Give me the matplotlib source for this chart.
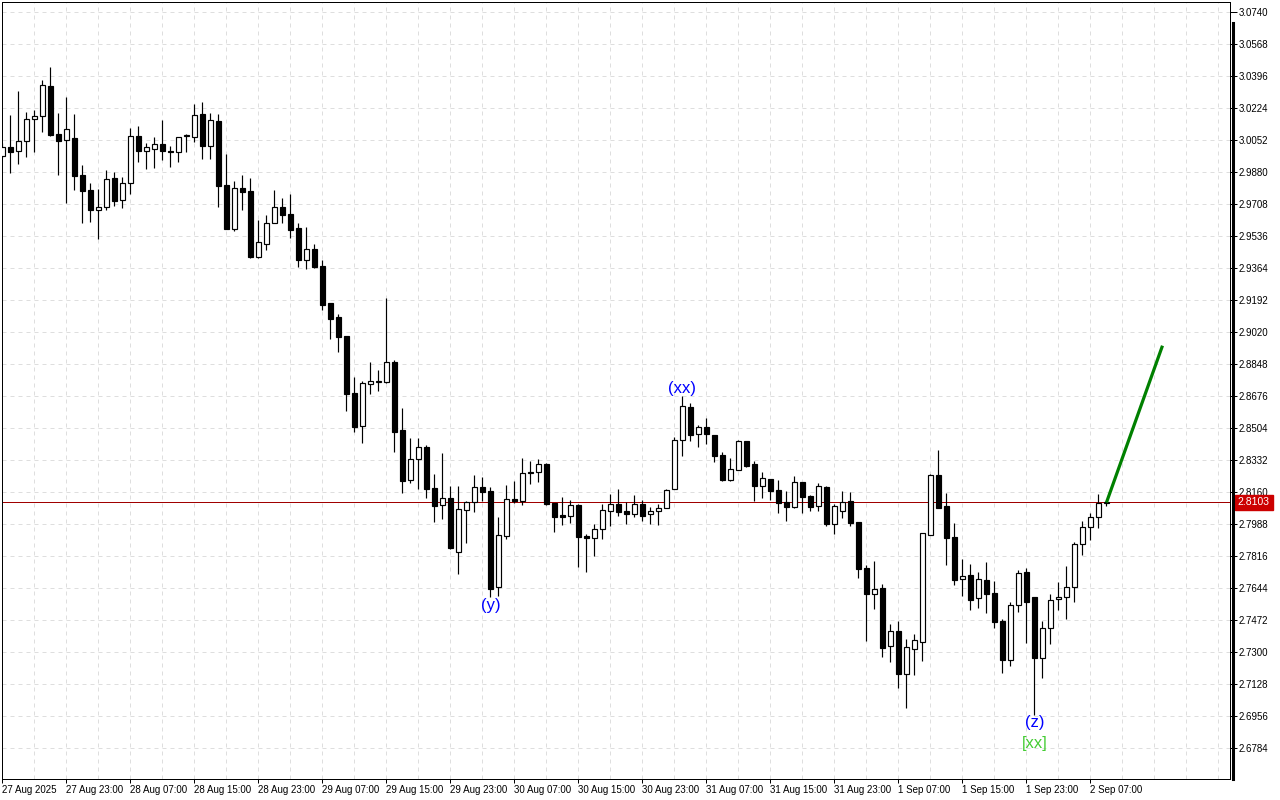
import numpy as np
import matplotlib
matplotlib.use('Agg')
import matplotlib.pyplot as plt
from matplotlib.lines import Line2D

plt.rcParams['font.family'] = ['Liberation Sans', 'DejaVu Sans']

# hourly candles, 27 Aug 15:00 -> 2 Sep 09:00
opens = [
    2.9967, 3.0013, 2.9991, 3.0045, 3.0163, 3.0179, 3.0341, 3.0082, 3.0050, 3.0061,
    2.9862, 2.9781, 2.9677, 2.9690, 2.9846, 2.9728, 2.9819, 3.0073, 2.9991, 3.0005,
    3.0032, 2.9993, 2.9989, 3.0073, 3.0070, 3.0190, 3.0021, 3.0154, 2.9810, 2.9575,
    2.9794, 2.9778, 2.9424, 2.9491, 2.9604, 2.9692, 2.9654, 2.9577, 2.9405, 2.9464,
    2.9373, 2.9175, 2.9100, 2.8998, 2.8692, 2.8516, 2.8738, 2.8753, 2.8752, 2.8857,
    2.8493, 2.8222, 2.8335, 2.8400, 2.8179, 2.8088, 2.8125, 2.7838, 2.8064, 2.8104,
    2.8185, 2.8163, 2.7650, 2.7921, 2.8120, 2.8113, 2.8267, 2.8265, 2.8310, 2.8100,
    2.8034, 2.8029, 2.8089, 2.7923, 2.7911, 2.7959, 2.8057, 2.8093, 2.8056, 2.8040,
    2.8093, 2.8043, 2.8056, 2.8072, 2.8174, 2.8437, 2.8615, 2.8470, 2.8508, 2.8466,
    2.8357, 2.8226, 2.8279, 2.8432, 2.8308, 2.8193, 2.8228, 2.8170, 2.8105, 2.8080,
    2.8212, 2.8136, 2.8082, 2.8185, 2.7987, 2.8056, 2.8109, 2.7996, 2.7751, 2.7613,
    2.7643, 2.7330, 2.7410, 2.7183, 2.7317, 2.7355, 2.7930, 2.8251, 2.8084, 2.7918,
    2.7690, 2.7711, 2.7588, 2.7686, 2.7615, 2.7466, 2.7258, 2.7550, 2.7727, 2.7595,
    2.7265, 2.7427, 2.7583, 2.7593, 2.7650, 2.7878, 2.7970, 2.8023, 2.8099,
]
highs = [
    3.0036, 3.0186, 3.0315, 3.0202, 3.0213, 3.0374, 3.0444, 3.0197, 3.0283, 3.0192,
    2.9917, 2.9821, 2.9788, 2.9891, 2.9880, 2.9853, 3.0116, 3.0127, 3.0036, 3.0068,
    3.0159, 3.0020, 3.0068, 3.0086, 3.0245, 3.0256, 3.0197, 3.0192, 2.9977, 2.9831,
    2.9864, 2.9848, 2.9622, 2.9649, 2.9783, 2.9740, 2.9762, 2.9606, 2.9584, 2.9493,
    2.9407, 2.9175, 2.9116, 2.8998, 2.8778, 2.8756, 2.8858, 2.8815, 2.9202, 2.8869,
    2.8611, 2.8450, 2.8450, 2.8412, 2.8256, 2.8369, 2.8192, 2.8192, 2.8111, 2.8251,
    2.8240, 2.8186, 2.8025, 2.8197, 2.8219, 2.8342, 2.8326, 2.8337, 2.8315, 2.8100,
    2.8133, 2.8116, 2.8095, 2.7934, 2.7987, 2.8095, 2.8149, 2.8176, 2.8105, 2.8143,
    2.8116, 2.8079, 2.8095, 2.8176, 2.8455, 2.8676, 2.8638, 2.8520, 2.8557, 2.8466,
    2.8374, 2.8342, 2.8439, 2.8434, 2.8326, 2.8267, 2.8231, 2.8224, 2.8165, 2.8245,
    2.8213, 2.8143, 2.8208, 2.8192, 2.8095, 2.8165, 2.8159, 2.7998, 2.7767, 2.7788,
    2.7665, 2.7450, 2.7466, 2.7369, 2.7396, 2.7939, 2.8256, 2.8385, 2.8154, 2.7993,
    2.7799, 2.7772, 2.7729, 2.7783, 2.7681, 2.7477, 2.7568, 2.7740, 2.7751, 2.7595,
    2.7466, 2.7611, 2.7676, 2.7761, 2.7891, 2.8003, 2.8047, 2.8149, 2.8111,
]
lows = [
    2.9955, 2.9874, 2.9923, 2.9960, 2.9987, 3.0095, 3.0073, 2.9864, 2.9713, 2.9783,
    2.9606, 2.9611, 2.9520, 2.9676, 2.9697, 2.9686, 2.9762, 2.9934, 2.9896, 2.9901,
    2.9944, 2.9907, 2.9934, 2.9986, 3.0041, 2.9950, 2.9950, 2.9692, 2.9573, 2.9563,
    2.9676, 2.9417, 2.9417, 2.9460, 2.9603, 2.9606, 2.9525, 2.9369, 2.9358, 2.9364,
    2.9138, 2.8982, 2.8912, 2.8595, 2.8482, 2.8423, 2.8686, 2.8702, 2.8748, 2.8374,
    2.8154, 2.8208, 2.8176, 2.8127, 2.7998, 2.8014, 2.7853, 2.7719, 2.7885, 2.8052,
    2.8111, 2.7595, 2.7600, 2.7907, 2.8100, 2.8089, 2.8202, 2.8213, 2.8089, 2.7944,
    2.7982, 2.7993, 2.7756, 2.7729, 2.7815, 2.7907, 2.7977, 2.8030, 2.7987, 2.8025,
    2.8003, 2.7987, 2.7982, 2.8071, 2.8173, 2.8353, 2.8434, 2.8401, 2.8417, 2.8321,
    2.8221, 2.8219, 2.8278, 2.8294, 2.8111, 2.8127, 2.8116, 2.8047, 2.8003, 2.8073,
    2.8047, 2.8057, 2.8057, 2.7977, 2.7934, 2.8020, 2.7977, 2.7697, 2.7358, 2.7530,
    2.7272, 2.7245, 2.7106, 2.6998, 2.7176, 2.7251, 2.7928, 2.8073, 2.7767, 2.7659,
    2.7600, 2.7525, 2.7536, 2.7509, 2.7428, 2.7186, 2.7224, 2.7514, 2.7348, 2.6960,
    2.7159, 2.7342, 2.7525, 2.7477, 2.7568, 2.7821, 2.7901, 2.7966, 2.8084,
]
closes = [
    3.0013, 2.9989, 3.0045, 3.0163, 3.0179, 3.0346, 3.0079, 3.0045, 3.0109, 2.9860,
    2.9779, 2.9677, 2.9692, 2.9841, 2.9725, 2.9819, 3.0072, 2.9993, 3.0013, 3.0029,
    2.9994, 2.9990, 3.0066, 3.0077, 3.0185, 3.0021, 3.0158, 2.9806, 2.9575, 2.9792,
    2.9774, 2.9424, 2.9502, 2.9604, 2.9690, 2.9650, 2.9570, 2.9408, 2.9464, 2.9369,
    2.9166, 2.9091, 2.8994, 2.8688, 2.8509, 2.8745, 2.8754, 2.8754, 2.8857, 2.8484,
    2.8220, 2.8335, 2.8400, 2.8174, 2.8086, 2.8127, 2.7860, 2.8066, 2.8104, 2.8185,
    2.8161, 2.7640, 2.7927, 2.8120, 2.8113, 2.8260, 2.8260, 2.8308, 2.8097, 2.8027,
    2.8027, 2.8088, 2.7919, 2.7911, 2.7959, 2.8061, 2.8093, 2.8053, 2.8040, 2.8093,
    2.8032, 2.8056, 2.8072, 2.8169, 2.8437, 2.8620, 2.8464, 2.8508, 2.8470, 2.8355,
    2.8226, 2.8281, 2.8432, 2.8300, 2.8193, 2.8233, 2.8166, 2.8102, 2.8080, 2.8212,
    2.8134, 2.8080, 2.8190, 2.7985, 2.8084, 2.8105, 2.7994, 2.7747, 2.7613, 2.7640,
    2.7322, 2.7410, 2.7183, 2.7324, 2.7362, 2.7937, 2.8251, 2.8075, 2.7914, 2.7688,
    2.7706, 2.7580, 2.7690, 2.7613, 2.7462, 2.7258, 2.7550, 2.7722, 2.7570, 2.7269,
    2.7427, 2.7577, 2.7593, 2.7647, 2.7878, 2.7970, 2.8023, 2.8099, 2.8103,
]

# time axis labels (every 8 bars)
x_labels = ['27 Aug 2025', '27 Aug 23:00', '28 Aug 07:00', '28 Aug 15:00', '28 Aug 23:00',
            '29 Aug 07:00', '29 Aug 15:00', '29 Aug 23:00', '30 Aug 07:00', '30 Aug 15:00',
            '30 Aug 23:00', '31 Aug 07:00', '31 Aug 15:00', '31 Aug 23:00', '1 Sep 07:00',
            '1 Sep 15:00', '1 Sep 23:00', '2 Sep 07:00']
y_ticks = [3.0740, 3.0568, 3.0396, 3.0224, 3.0052, 2.9880, 2.9708, 2.9536, 2.9364, 2.9192,
           2.9020, 2.8848, 2.8676, 2.8504, 2.8332, 2.8160, 2.7988, 2.7816, 2.7644, 2.7472,
           2.7300, 2.7128, 2.6956, 2.6784]

last_price = 2.8103
# forecast segment (bar index, price)
proj_x = [138, 145]
proj_y = [2.8103, 2.8946]

# wave labels: bar, text, colour, 'high'/'low', extra offset (pt)
wave_labels = [
    (61, '(y)', 'blue', 'low', -1),
    (85, '(xx)', 'blue', 'high', 0),
    (129, '(z)', 'blue', 'low', 0),
    (129, '[xx]', '#44cc33', 'low', -15),
]

o = np.array(opens)
h = np.array(highs)
l = np.array(lows)
c = np.array(closes)
x = np.arange(len(o))
up = c >= o

fig = plt.figure(figsize=(12.8, 8), dpi=100)
ax = fig.add_axes([2 / 1280, 21 / 800, 1228 / 1280, 777 / 800])
ax.set_xlim(-0.06, 153.44)
ax.set_ylim(2.6616, 3.0794)

# grid
for k in range(0, 154, 4):
    ax.axvline(k, color='#dedede', lw=0.72, ls=(0, (4, 4)), zorder=0)
for v in y_ticks:
    ax.axhline(v, color='#dedede', lw=0.72, ls=(0, (4, 4)), zorder=0)

# candles
ax.vlines(x, l, h, color='black', lw=0.85, zorder=3)
body_lo = np.minimum(o, c)
body_h = np.maximum(np.abs(c - o), 0.0001)
ax.bar(x[up], body_h[up], bottom=body_lo[up], width=0.55, facecolor='white',
       edgecolor='black', lw=0.85, zorder=4)
ax.bar(x[~up], body_h[~up], bottom=body_lo[~up], width=0.55, facecolor='black',
       edgecolor='black', lw=0.85, zorder=4)

# current price line
ax.axhline(last_price, color='#a00000', lw=0.72, zorder=2)

# forecast line
ax.plot(proj_x, proj_y, color='#008000', lw=2.3, zorder=5, solid_capstyle='butt')

for k, txt, col, side, dy in wave_labels:
    if side == 'low':
        ax.annotate(txt, (k, lows[k]), xytext=(0, dy), textcoords='offset points',
                    ha='center', va='top', color=col, fontsize=12)
    else:
        ax.annotate(txt, (k, highs[k]), xytext=(0, dy), textcoords='offset points',
                    ha='center', va='bottom', color=col, fontsize=12)

# axes
for s in ax.spines.values():
    s.set_color('black')
    s.set_linewidth(0.72)
ax.set_xticks(np.arange(0, 8 * len(x_labels), 8), x_labels)
for lbl in ax.get_xticklabels():
    lbl.set_horizontalalignment('left')
ax.tick_params(axis='x', length=3, width=0.72, pad=1.5, labelsize=7)
ax.yaxis.tick_right()
ax.set_yticks(y_ticks, ['%.4f' % v for v in y_ticks])
ax.tick_params(axis='y', length=5, width=0.72, pad=1.5, labelsize=7)

# price tag on the scale
ax.annotate('%.4f' % last_price, (1, last_price), xycoords=('axes fraction', 'data'),
            xytext=(5.6, 0), textcoords='offset points', ha='left', va='center',
            color='white', fontsize=7.5, annotation_clip=False,
            bbox=dict(boxstyle='square,pad=0.28', fc='#cc0000', ec='#cc0000'))

# thick bar next to the price scale
fig.add_artist(Line2D([1232.5 / 1280, 1232.5 / 1280], [21 / 800, 777 / 800],
                      lw=2.2, color='black'))

fig.savefig('out.png', dpi=100)
